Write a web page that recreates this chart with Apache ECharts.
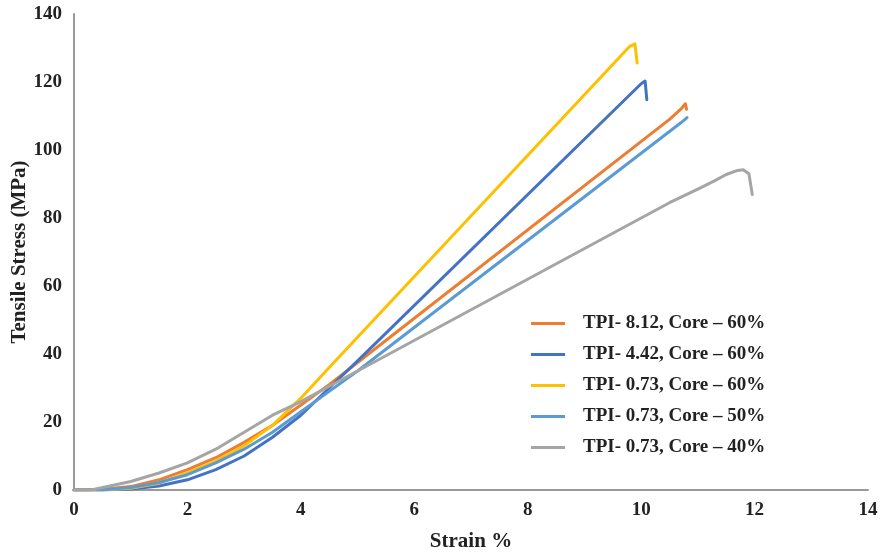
<!DOCTYPE html>
<html>
<head>
<meta charset="utf-8">
<script src="https://cdn.jsdelivr.net/npm/echarts@6/dist/echarts.min.js"></script>
<style>
  html, body { margin: 0; padding: 0; background: #fff; }
  #chart { width: 886px; height: 552px; }
</style>
</head>
<body>
<div id="chart"></div>
<script>
// curves: strain (%) and tensile stress (MPa)
var names = ["TPI- 8.12, Core \u2013 60%", "TPI- 4.42, Core \u2013 60%", "TPI- 0.73, Core \u2013 60%", "TPI- 0.73, Core \u2013 50%", "TPI- 0.73, Core \u2013 40%"];
var colors = ["#ED7D31", "#4472C4", "#FFC000", "#5B9BD5", "#A5A5A5"];

var strain812_60 = [0, 0.5, 1, 1.5, 2, 2.5, 3, 3.5, 4, 4.5, 5, 10.5, 10.7, 10.78, 10.8];
var stress812_60 = [0, 0.2, 1, 3, 6, 9.5, 14, 19, 25, 31, 37.5, 109, 112, 113.6, 112];

var strain442_60 = [0, 0.5, 1, 1.5, 2, 2.5, 3, 3.5, 4, 4.5, 5, 10, 10.07, 10.1];
var stress442_60 = [0, 0, 0.3, 1.2, 3, 6, 10, 15.5, 22, 30, 38, 119.5, 120.3, 114.8];

var strain073_60 = [0, 0.5, 1, 1.5, 2, 2.5, 3, 3.5, 4, 4.5, 9.8, 9.89, 9.93];
var stress073_60 = [0, 0, 0.5, 2, 5, 8.5, 13, 19, 27, 36, 130.5, 131.2, 125.6];

var strain073_50 = [0, 0.5, 1, 1.5, 2, 2.5, 3, 3.5, 4, 4.5, 5, 10.7, 10.81];
var stress073_50 = [0, 0.1, 0.7, 2.2, 4.5, 8, 12, 17, 23, 29, 35, 108, 109.5];

var strain073_40 = [0, 0.3, 1, 1.5, 2, 2.5, 3, 3.5, 4, 4.5, 5, 10, 10.5, 11, 11.3, 11.5, 11.7, 11.8, 11.9, 11.96];
var stress073_40 = [0, 0, 2.5, 5, 8, 12, 17, 22, 26, 30.5, 35, 80, 84.5, 88.5, 91, 92.8, 94, 94.2, 93, 86.9];

var xs = [strain812_60, strain442_60, strain073_60, strain073_50, strain073_40];
var ys = [stress812_60, stress442_60, stress073_60, stress073_50, stress073_40];

function pairs(a, b) {
    var out = [];
    for (var i = 0; i < a.length; i++) out.push([a[i], b[i]]);
    return out;
}

var serif = "'Liberation Serif', 'Times New Roman', serif";

var series = [];
for (var i = 0; i < names.length; i++) {
    series.push({
        name: names[i],
        type: "line",
        data: pairs(xs[i], ys[i]),
        smooth: false,
        showSymbol: false,
        lineStyle: { color: colors[i], width: 3, join: "round", cap: "round" },
        itemStyle: { color: colors[i] }
    });
}

var myChart = echarts.init(document.getElementById("chart"));
var option = {
    animation: false,
    backgroundColor: "#ffffff",
    grid: { left: 74, right: 18, top: 14, bottom: 62, outerBoundsMode: "none" },
    legend: {
        orient: "vertical",
        left: 526,
        top: 309,
        icon: "rect",
        itemWidth: 34,
        itemHeight: 3,
        itemGap: 12,
        textStyle: { fontFamily: serif, fontWeight: "bold", fontSize: 19, color: "#222", padding: [0, 0, 0, 13] },
        data: names
    },
    xAxis: {
        type: "value",
        min: 0,
        max: 14,
        interval: 2,
        name: "Strain %",
        nameLocation: "middle",
        nameGap: 41,
        nameMoveOverlap: false,
        nameTextStyle: { fontFamily: serif, fontWeight: "bold", fontSize: 21, color: "#222" },
        axisLine: { show: true, lineStyle: { color: "#9a9a9a", width: 2 } },
        axisTick: { show: false },
        splitLine: { show: false },
        axisLabel: { fontFamily: serif, fontWeight: "bold", fontSize: 19, color: "#222", margin: 11 }
    },
    yAxis: {
        type: "value",
        min: 0,
        max: 140,
        interval: 20,
        name: "Tensile Stress (MPa)",
        nameLocation: "middle",
        nameGap: 44,
        nameMoveOverlap: false,
        nameTextStyle: { fontFamily: serif, fontWeight: "bold", fontSize: 21, color: "#222" },
        axisLine: { show: true, lineStyle: { color: "#9a9a9a", width: 2 } },
        axisTick: { show: false },
        splitLine: { show: false },
        axisLabel: { fontFamily: serif, fontWeight: "bold", fontSize: 19, color: "#222", margin: 12 }
    },
    series: series
};
myChart.setOption(option);
</script>
</body>
</html>
